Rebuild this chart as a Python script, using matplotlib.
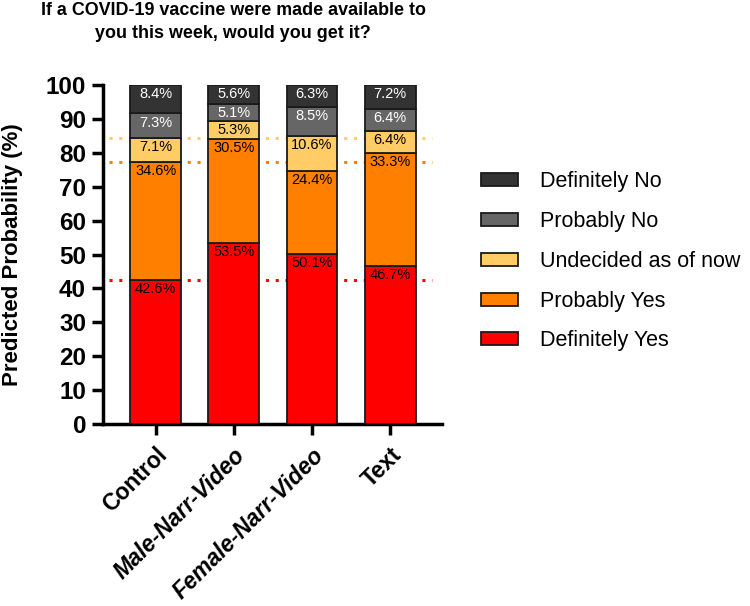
import numpy as np
import matplotlib
matplotlib.use("Agg")
import matplotlib.pyplot as plt
from matplotlib.patches import Patch

plt.rcParams['font.family'] = ['Liberation Sans', 'DejaVu Sans']

groups = ['Control', 'Male-Narr-Video', 'Female-Narr-Video', 'Text']
categories = ['Definitely Yes', 'Probably Yes', 'Undecided as of now', 'Probably No', 'Definitely No']
definitely_yes = [42.6, 53.5, 50.1, 46.7]
probably_yes = [34.6, 30.5, 24.4, 33.3]
undecided = [7.1, 5.3, 10.6, 6.4]
probably_no = [7.3, 5.1, 8.5, 6.4]
definitely_no = [8.4, 5.6, 6.3, 7.2]

colors = ['#FF0000', '#FF8000', '#FFCC66', '#666666', '#333333']
text_colors = ['black', 'black', 'black', 'white', 'white']

series = [definitely_yes, probably_yes, undecided, probably_no, definitely_no]

fig = plt.figure(figsize=(7.5, 6.06), dpi=100)
ax = fig.add_axes([0.137, 0.3003, 0.452, 0.5594])

x = np.arange(len(groups))
bottom = np.zeros(len(groups))
handles = []
for vals, c, tc, name in zip(series, colors, text_colors, categories):
    vals = np.array(vals)
    ax.bar(x, vals, bottom=bottom, width=0.65, color=c, edgecolor='#1a1a1a',
           linewidth=1.3, zorder=3)
    for xi, b, v in zip(x, bottom, vals):
        ax.text(xi, b + v - 0.6, f'{v:.1f}%', ha='center', va='top',
                fontsize=10.5, color=tc, zorder=4)
    bottom = bottom + vals
    handles.append(Patch(facecolor=c, edgecolor='#1a1a1a', linewidth=1.3, label=name))

# reference lines at control levels
ref = np.cumsum([definitely_yes[0], probably_yes[0], undecided[0]])
for level, c in zip(ref, ['#FF0000', '#FF8000', '#FFCC66']):
    ax.plot([-0.6, 3.53], [level, level], linestyle=(0, (1, 2.2)), color=c,
            linewidth=2.2, zorder=2)

ax.set_xlim(-0.676, 3.66)
ax.set_ylim(0, 100)
ax.set_yticks(np.arange(0, 101, 10))
ax.set_yticklabels([str(v) for v in range(0, 101, 10)], fontsize=17.5, fontweight='bold')
ax.set_xticks(x)
ax.set_xticklabels(groups, rotation=45, ha='right', rotation_mode='anchor',
                   fontsize=16.5, fontweight='bold')
for lbl in ax.get_xticklabels()[1:3]:
    lbl.set_fontstyle('italic')

for side in ['top', 'right']:
    ax.spines[side].set_visible(False)
for side in ['left', 'bottom']:
    ax.spines[side].set_linewidth(2.5)
ax.tick_params(axis='both', width=2.5, length=8, direction='out')
ax.tick_params(axis='y', pad=4)
ax.tick_params(axis='x', pad=6)

ax.set_ylabel('Predicted Probability (%)', fontsize=16, fontweight='bold', labelpad=16)
fig.suptitle('If a COVID-19 vaccine were made available to\nyou this week, would you get it?',
             x=0.311, y=0.997, fontsize=12.9, fontweight='bold', linespacing=1.5)

fig.legend(handles=handles[::-1], loc='upper left', bbox_to_anchor=(0.616, 0.749),
           frameon=False, fontsize=15.5, handlelength=1.72, handleheight=0.56,
           labelspacing=0.87, handletextpad=0.98)

fig.savefig('out.png', dpi=100)
